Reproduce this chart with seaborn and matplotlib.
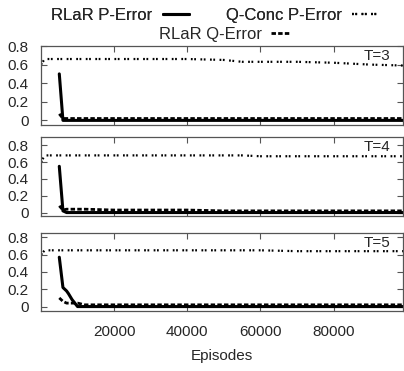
import numpy as np
import pandas as pd
import matplotlib
matplotlib.use('Agg')
import matplotlib.pyplot as plt
from matplotlib.lines import Line2D
import seaborn as sns

# episodes at which the RLaR errors were logged
rlar_episodes = [5000, 6000, 7000, 7500, 8500, 10000, 12000, 20000, 30000, 40000,
                 50000, 60000, 70000, 80000, 90000, 99000]
# episodes at which the Q-Conc error was logged
qconc_episodes = [0, 1000, 10000, 20000, 30000, 40000, 50000, 55000,
                  60000, 70000, 80000, 85000, 90000, 99000]

panel_labels = ['T=3', 'T=4', 'T=5']

rlar_p_error = [
    [0.50, 0.00, 0.00, 0.00, 0.00, 0.00, 0.00, 0.00, 0.00, 0.00, 0.00, 0.00, 0.00, 0.00, 0.00, 0.00],
    [0.55, 0.02, 0.00, 0.00, 0.00, 0.00, 0.00, 0.00, 0.00, 0.00, 0.00, 0.00, 0.00, 0.00, 0.00, 0.00],
    [0.57, 0.22, 0.18, 0.15, 0.08, 0.00, 0.00, 0.00, 0.00, 0.00, 0.00, 0.00, 0.00, 0.00, 0.00, 0.00],
]
rlar_q_error = [
    [0.07, 0.02, 0.02, 0.02, 0.02, 0.02, 0.02, 0.02, 0.02, 0.02, 0.02, 0.02, 0.02, 0.02, 0.02, 0.02],
    [0.08, 0.03, 0.04, 0.04, 0.04, 0.04, 0.04, 0.03, 0.03, 0.03, 0.02, 0.02, 0.02, 0.02, 0.02, 0.02],
    [0.10, 0.06, 0.04, 0.04, 0.04, 0.04, 0.02, 0.02, 0.02, 0.02, 0.02, 0.02, 0.02, 0.02, 0.02, 0.02],
]
qconc_p_error = [
    [0.60, 0.66, 0.66, 0.66, 0.66, 0.66, 0.65, 0.63, 0.63, 0.63, 0.62, 0.61, 0.60, 0.59],
    [0.60, 0.68, 0.68, 0.68, 0.68, 0.68, 0.68, 0.68, 0.67, 0.67, 0.67, 0.67, 0.67, 0.67],
    [0.60, 0.65, 0.65, 0.65, 0.65, 0.65, 0.65, 0.65, 0.65, 0.64, 0.64, 0.64, 0.64, 0.64],
]

ylims = [(-0.05, 0.80), (-0.04, 0.90), (-0.05, 0.85)]

sns.set_style('ticks')
plt.rcParams['font.family'] = ['Liberation Sans', 'DejaVu Sans']
plt.rcParams['font.size'] = 11

fig = plt.figure(figsize=(4.04, 3.71), dpi=100)

# axes rectangles (left, bottom, width, height)
rects = [
    (0.1015, 0.663, 0.896, 0.213),
    (0.1015, 0.418, 0.896, 0.213),
    (0.1015, 0.162, 0.896, 0.210),
]

solid_style = dict(color='black', linewidth=2.2, linestyle='-')
dash_style = dict(color='black', linewidth=2.0, linestyle=(0, (1.6, 0.8)))
dot_style = dict(color='black', linewidth=1.6, linestyle=(0, (0.8, 0.7, 0.8, 2.0)))

for i in range(3):
    ax = fig.add_axes(rects[i])
    df_r = pd.DataFrame({'episodes': rlar_episodes,
                         'p': rlar_p_error[i],
                         'q': rlar_q_error[i]})
    df_c = pd.DataFrame({'episodes': qconc_episodes, 'p': qconc_p_error[i]})

    sns.lineplot(data=df_r, x='episodes', y='p', ax=ax, **solid_style)
    sns.lineplot(data=df_c, x='episodes', y='p', ax=ax, **dot_style)
    sns.lineplot(data=df_r, x='episodes', y='q', ax=ax, **dash_style)

    ax.set_xlim(0, 99000)
    ax.set_ylim(*ylims[i])
    ax.set_yticks([0, 0.2, 0.4, 0.6, 0.8])
    ax.set_yticklabels(['0', '0.2', '0.4', '0.6', '0.8'])
    ax.set_xticks([20000, 40000, 60000, 80000])
    ax.tick_params(direction='in', top=True, right=True, length=4,
                   width=0.8, color='#555555', labelsize=11)
    ax.tick_params(axis='y', pad=9)
    ax.tick_params(axis='x', pad=10)
    ax.set_ylabel('')
    if i < 2:
        ax.set_xticklabels([])
        ax.set_xlabel('')
    else:
        ax.set_xticklabels(['20000', '40000', '60000', '80000'])
        ax.set_xlabel('Episodes', fontsize=11, labelpad=7)
    for sp in ax.spines.values():
        sp.set_color('#555555')
        sp.set_linewidth(0.9)
    ax.text(0.965, 0.96, panel_labels[i], transform=ax.transAxes,
            ha='right', va='top', fontsize=11)

h_solid = Line2D([], [], **solid_style)
h_dot = Line2D([], [], **dot_style)
h_dash = Line2D([], [], **dash_style)

leg1 = fig.legend([h_solid, h_dot], ['RLaR P-Error', 'Q-Conc P-Error'],
                  ncol=2, markerfirst=False, frameon=False, fontsize=12,
                  loc='upper center', bbox_to_anchor=(0.532, 1.02),
                  handlelength=1.6, columnspacing=2.2, handletextpad=0.6)
fig.add_artist(leg1)
fig.legend([h_dash], ['RLaR Q-Error'], markerfirst=False, frameon=False,
           fontsize=12, loc='upper center', bbox_to_anchor=(0.557, 0.968),
           handlelength=1.2, handletextpad=0.5)

plt.savefig('out.png', dpi=100)
